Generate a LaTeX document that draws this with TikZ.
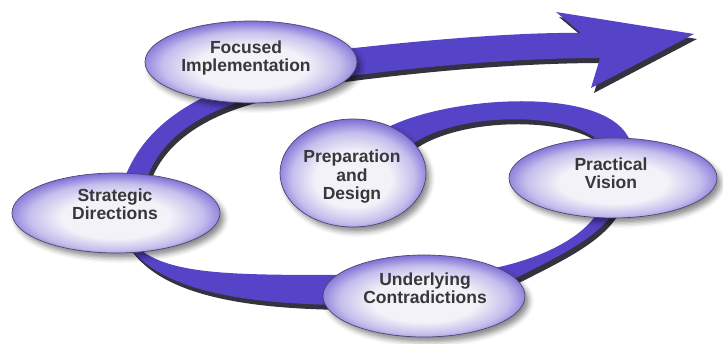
\documentclass[tikz,border=0pt]{standalone}
\usepackage{fontspec}
\setmainfont{Liberation Sans}
\usetikzlibrary{shapes.geometric,shadows.blur}

\definecolor{ribbon}{RGB}{86,68,200}
\definecolor{ribbonshade}{RGB}{52,50,62}
\definecolor{bubedge}{RGB}{124,108,214}
\definecolor{bubmid}{RGB}{196,190,236}
\definecolor{bubcore}{RGB}{243,242,248}
\definecolor{rim}{RGB}{78,70,112}
\definecolor{ink}{RGB}{55,55,60}

% soft lavender glow, brightest slightly below the middle
\pgfdeclareradialshading{ovalglow}{\pgfpoint{0bp}{-4bp}}{%
  color(0bp)=(bubcore); color(13bp)=(bubcore); color(21bp)=(bubmid);
  color(27bp)=(bubedge); color(50bp)=(bubedge)}

\tikzset{
  oval/.style={ellipse, draw=rim, line width=0.7pt, shading=ovalglow,
    inner sep=0pt,
    blur shadow={shadow xshift=4pt, shadow yshift=-5pt,
      shadow blur radius=5pt, shadow opacity=45}},
  caption/.style={font=\bfseries\fontsize{17.5}{18.5}\selectfont,
    text=ink, align=center, inner sep=0pt},
  band/.style={fill=ribbon,
    preaction={fill=ribbonshade, transform canvas={xshift=3pt, yshift=-5pt}}}
}

\begin{document}
\begin{tikzpicture}[x=1pt, y=-1pt]
\useasboundingbox (0,0) rectangle (723,344);

% ---- spiral ribbon, drawn beneath the ovals ----
% outer turn ending in the big arrow
\fill[band] (320,52) .. controls (420,40) and (520,32) .. (581,33)
  -- (556,12) -- (694,34) -- (591,88) -- (600,58)
  .. controls (520,58) and (420,66) .. (320,80) -- cycle;
% Strategic Directions up to Focused Implementation
\fill[band] (122,185) .. controls (137,140) and (170,112) .. (215,92)
  -- (265,95) .. controls (200,110) and (157,140) .. (145,185) -- cycle;
% Underlying Contradictions back to Strategic Directions
\fill[band] (135,245) .. controls (165,275) and (230,275) .. (345,275)
  -- (345,305) .. controls (240,304) and (160,290) .. (128,245) -- cycle;
% Practical Vision down to Underlying Contradictions
\fill[band] (485,270) .. controls (528,262) and (578,244) .. (598,212)
  -- (614,212) .. controls (595,240) and (555,258) .. (512,280) -- cycle;
% inner turn: Preparation and Design over to Practical Vision
\fill[band] (375,135) .. controls (430,95) and (625,80) .. (632,150)
  -- (605,150) .. controls (590,110) and (450,108) .. (405,150) -- cycle;

% ---- ovals ----
\node[oval, minimum width=212pt, minimum height=82pt] (fi) at (251,62) {};
\node[oval, minimum width=208pt, minimum height=80pt] (sd) at (116,213) {};
\node[oval, minimum width=146pt, minimum height=108pt] (pd) at (353,173) {};
\node[oval, minimum width=208pt, minimum height=80pt] (pv) at (613,178) {};
\node[oval, minimum width=202pt, minimum height=82pt] (uc) at (424,296) {};

% ---- captions ----
\node[caption] (fi-text) at (246,58) {Focused\\Implementation};
\node[caption] (sd-text) at (115,204) {Strategic\\Directions};
\node[caption] (pd-text) at (352,177) {Preparation\\and\\Design};
\node[caption] (pv-text) at (611,173) {Practical\\Vision};
\node[caption] (uc-text) at (425,288) {Underlying\\Contradictions};
\end{tikzpicture}
\end{document}
